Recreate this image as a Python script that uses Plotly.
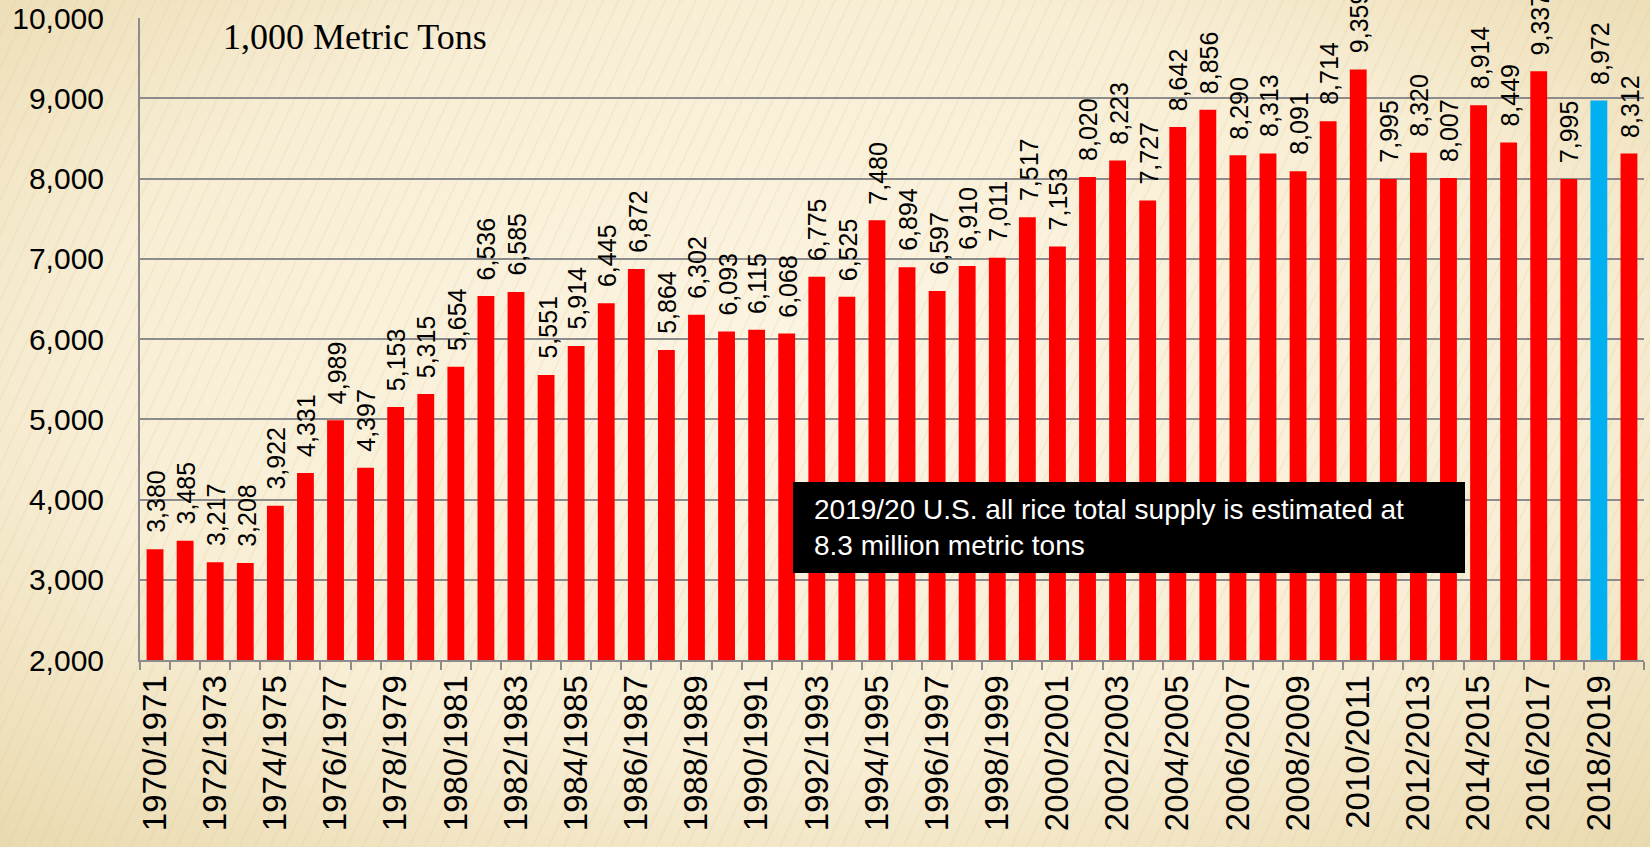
import base64
import plotly.graph_objects as go

# ---- data ----
categories = [f"{y}/{y+1}" for y in range(1970, 2020)]
supply = [3380, 3485, 3217, 3208, 3922, 4331, 4989, 4397, 5153, 5315,
          5654, 6536, 6585, 5551, 5914, 6445, 6872, 5864, 6302, 6093,
          6115, 6068, 6775, 6525, 7480, 6894, 6597, 6910, 7011, 7517,
          7153, 8020, 8223, 7727, 8642, 8856, 8290, 8313, 8091, 8714,
          9359, 7995, 8320, 8007, 8914, 8449, 9337, 7995, 8972, 8312]
highlight_category = "2018/2019"
tick_labels = [c if i % 2 == 0 else "" for i, c in enumerate(categories)]
unit_label = "1,000 Metric Tons"
note_text = "2019/20 U.S. all rice total supply is estimated at<br>8.3 million metric tons"

RED = "#FF0000"
BLUE = "#00B0F0"
colors = [BLUE if c == highlight_category else RED for c in categories]

# background texture (cream with subtle diagonal stripes and darker edges)
svg = """<svg xmlns='http://www.w3.org/2000/svg' width='1650' height='847'>
<defs>
<radialGradient id='g' cx='50%' cy='45%' r='75%'>
<stop offset='0%' stop-color='#FCF5E3'/>
<stop offset='60%' stop-color='#F8EED5'/>
<stop offset='100%' stop-color='#E9D9AE'/>
</radialGradient>
<pattern id='p' width='14' height='14' patternUnits='userSpaceOnUse' patternTransform='rotate(25)'>
<rect width='14' height='14' fill='none'/>
<line x1='0' y1='0' x2='0' y2='14' stroke='#D9C48F' stroke-width='3' stroke-opacity='0.22'/>
</pattern>
</defs>
<rect width='1650' height='847' fill='url(#g)'/>
<rect width='1650' height='847' fill='url(#p)'/>
</svg>"""
bg_uri = "data:image/svg+xml;base64," + base64.b64encode(svg.encode()).decode()

L, R, T, B = 140, 6, 18, 187
W, H = 1650, 847
pw, ph = W - L - R, H - T - B

def px_x(x):
    return (x - L) / pw

def px_y(y):
    return (H - B - y) / ph

fig = go.Figure()
fig.add_trace(go.Bar(
    x=categories, y=supply,
    marker=dict(color=colors, line=dict(width=0)),
    hoverinfo="skip",
))

# value labels above each bar (rotated), positioned through the data axes
value_labels = [
    dict(x=c, y=v, xref="x", yref="y", text=f"{v:,}", textangle=-90,
         xanchor="center", yanchor="bottom", yshift=14, xshift=1, showarrow=False,
         font=dict(family="Liberation Sans, Arial, sans-serif", size=25, color="black"))
    for c, v in zip(categories, supply)
]

fig.update_layout(
    width=W, height=H,
    margin=dict(l=L, r=R, t=T, b=B, pad=0, autoexpand=False),
    paper_bgcolor="#F8EFD6",
    plot_bgcolor="rgba(0,0,0,0)",
    bargap=0.44,
    showlegend=False,
    font=dict(family="Liberation Sans, Arial, sans-serif", color="black"),
    images=[dict(source=bg_uri, xref="paper", yref="paper",
                 x=px_x(0), y=px_y(0), sizex=W / pw, sizey=H / ph,
                 xanchor="left", yanchor="top", sizing="stretch", layer="below")],
    xaxis=dict(
        type="category", automargin=False,
        tickmode="array", tickvals=categories, ticktext=tick_labels,
        tickson="boundaries", ticks="outside", ticklen=8, tickwidth=2, tickcolor="#8C8C8C",
        tickangle=-90, tickfont=dict(size=33),
        showline=True, linecolor="#8C8C8C", linewidth=2,
        showgrid=False, range=[-0.5, len(categories) - 0.5],
    ),
    yaxis=dict(
        automargin=False,
        range=[2000, 10000], dtick=1000, tickformat=",",
        tickfont=dict(size=30), ticks="", ticklabelstandoff=28,
        showgrid=True, gridcolor="#8C8C8C", gridwidth=2,
        showline=True, linecolor="#8C8C8C", linewidth=2,
        zeroline=False,
    ),
    shapes=[dict(type="rect", xref="paper", yref="paper",
                 x0=px_x(793), x1=px_x(1465), y0=px_y(573), y1=px_y(482),
                 fillcolor="black", line=dict(width=0), layer="above")],
    annotations=value_labels + [
        dict(text=unit_label, xref="paper", yref="paper",
             x=px_x(221), y=px_y(37), xanchor="left", yanchor="middle",
             showarrow=False,
             font=dict(family="Liberation Serif, Times New Roman, serif", size=36, color="black")),
        dict(text=note_text, xref="paper", yref="paper",
             x=px_x(812), y=px_y(527), xanchor="left", yanchor="middle",
             align="left", showarrow=False,
             font=dict(family="Liberation Sans, Arial, sans-serif",
                       size=28, color="white")),
    ],
)

fig.write_html(
    "out.html",
    config={"displayModeBar": False},
    post_script="document.body.style.margin='0';document.body.style.overflow='hidden';",
)
